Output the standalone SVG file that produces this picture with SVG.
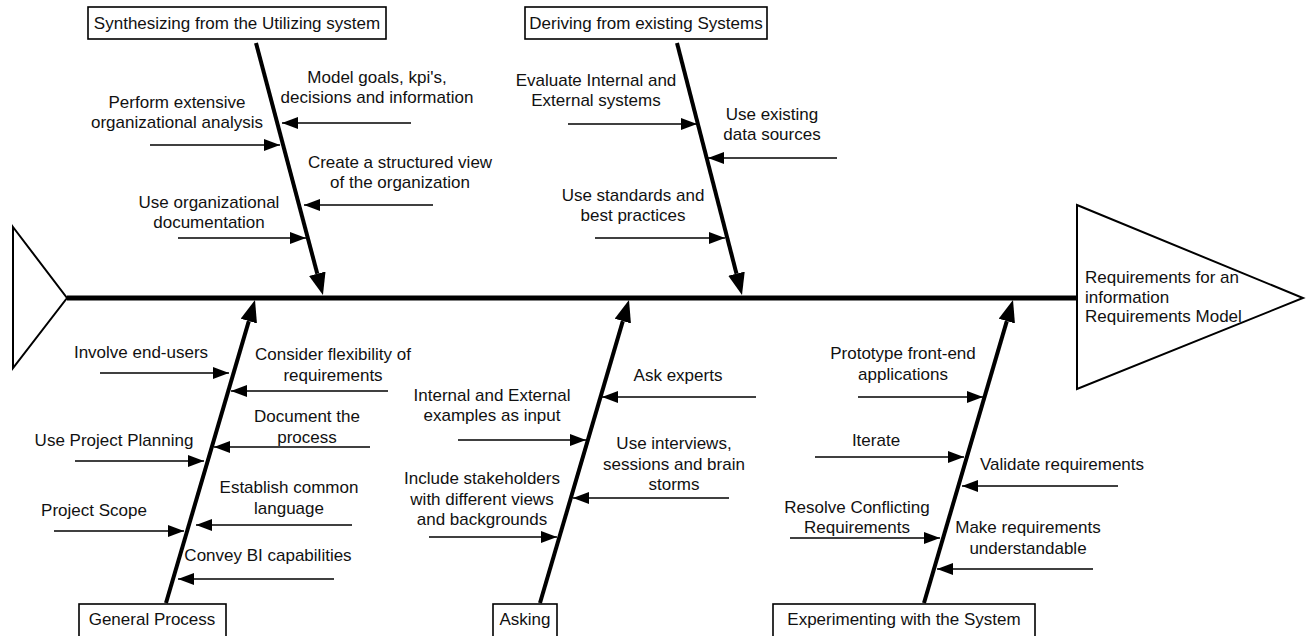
<svg xmlns="http://www.w3.org/2000/svg" width="1310" height="636" viewBox="0 0 1310 636">
  <style>
    text { font-family: "Liberation Sans", Arial, Helvetica, sans-serif; font-size: 17px; fill: #111; }
    .c { text-anchor: middle; }
    .box { fill: #fff; stroke: #000; stroke-width: 1.6; }
    .shape { fill: #fff; stroke: #000; stroke-width: 2; stroke-linejoin: miter; }
    .spine { stroke: #000; stroke-width: 5; fill: none; }
    .bone { stroke: #000; stroke-width: 4; fill: none; marker-end: url(#boneHead); }
    .cause { stroke: #000; stroke-width: 1.6; fill: none; marker-end: url(#causeHead); }
  </style>
  <defs>
    <marker id="causeHead" markerUnits="userSpaceOnUse" markerWidth="16" markerHeight="12" refX="16" refY="6" orient="auto">
      <path d="M0,0 L16,6 L0,12 z" fill="#000"/>
    </marker>
    <marker id="boneHead" markerUnits="userSpaceOnUse" markerWidth="22" markerHeight="17" refX="0" refY="8.5" orient="auto">
      <path d="M0,0 L22,8.5 L0,17 z" fill="#000"/>
    </marker>
  </defs>

  <rect width="1310" height="636" fill="#fff"/>

  <!-- fish tail -->
  <g id="tail">
    <polygon class="shape" points="13,227 67,298 13,368"/>
  </g>

  <!-- fish head: effect -->
  <g id="effect">
    <polygon class="shape" points="1077,205 1303,298 1077,389"/>
    <text x="1085" y="283">Requirements for an</text>
    <text x="1085" y="302.5">information</text>
    <text x="1085" y="322">Requirements Model</text>
  </g>

  <!-- connectors: spine, main bones, cause arrows -->
  <g id="connectors">
    <line class="spine" x1="67" y1="298" x2="1077" y2="298"/>

    <line class="bone" x1="256" y1="43" x2="317.3" y2="273.7"/>
    <line class="bone" x1="677" y1="43" x2="736.5" y2="273.7"/>
    <line class="bone" x1="166" y1="603" x2="248.8" y2="321.1"/>
    <line class="bone" x1="540" y1="603" x2="622.8" y2="321.1"/>
    <line class="bone" x1="924" y1="603" x2="1006.8" y2="321.1"/>

    <!-- Synthesizing -->
    <line class="cause" x1="150" y1="145" x2="280" y2="145"/>
    <line class="cause" x1="178" y1="238" x2="306" y2="238"/>
    <line class="cause" x1="411" y1="123" x2="282" y2="123"/>
    <line class="cause" x1="433" y1="205" x2="304" y2="205"/>

    <!-- Deriving -->
    <line class="cause" x1="568" y1="124" x2="697" y2="124"/>
    <line class="cause" x1="595" y1="238" x2="725" y2="238"/>
    <line class="cause" x1="837" y1="158" x2="708" y2="158"/>

    <!-- General Process -->
    <line class="cause" x1="100" y1="373" x2="229" y2="373"/>
    <line class="cause" x1="388" y1="391" x2="231" y2="391"/>
    <line class="cause" x1="370" y1="447" x2="214" y2="447"/>
    <line class="cause" x1="75" y1="461" x2="204" y2="461"/>
    <line class="cause" x1="352" y1="525" x2="196" y2="525"/>
    <line class="cause" x1="54" y1="531" x2="184" y2="531"/>
    <line class="cause" x1="334" y1="579" x2="178" y2="579"/>

    <!-- Asking -->
    <line class="cause" x1="756" y1="397" x2="602" y2="397"/>
    <line class="cause" x1="458" y1="440" x2="586" y2="440"/>
    <line class="cause" x1="729" y1="498" x2="573" y2="498"/>
    <line class="cause" x1="429" y1="537" x2="557" y2="537"/>

    <!-- Experimenting -->
    <line class="cause" x1="858" y1="397" x2="983" y2="397"/>
    <line class="cause" x1="815" y1="457" x2="964" y2="457"/>
    <line class="cause" x1="1118" y1="486" x2="962" y2="486"/>
    <line class="cause" x1="790" y1="538" x2="940" y2="538"/>
    <line class="cause" x1="1093" y1="569" x2="937" y2="569"/>
  </g>

  <!-- category boxes -->
  <g id="cat-synthesizing">
    <rect class="box" x="88" y="7" width="298" height="32"/>
    <text class="c" x="237" y="29">Synthesizing from the Utilizing system</text>
  </g>
  <g id="cat-deriving">
    <rect class="box" x="525" y="7" width="242" height="32"/>
    <text class="c" x="646" y="29">Deriving from existing Systems</text>
  </g>
  <g id="cat-general">
    <rect class="box" x="79" y="604" width="147" height="34"/>
    <text class="c" x="152" y="625">General Process</text>
  </g>
  <g id="cat-asking">
    <rect class="box" x="493" y="604" width="64" height="34"/>
    <text class="c" x="525" y="625">Asking</text>
  </g>
  <g id="cat-experimenting">
    <rect class="box" x="773" y="604" width="262" height="34"/>
    <text class="c" x="904" y="625">Experimenting with the System</text>
  </g>

  <!-- cause labels -->
  <g id="cause-perform">
    <text class="c" x="177" y="108">Perform extensive</text>
    <text class="c" x="177" y="128">organizational analysis</text>
  </g>
  <g id="cause-orgdoc">
    <text class="c" x="209" y="208">Use organizational</text>
    <text class="c" x="209" y="228">documentation</text>
  </g>
  <g id="cause-model">
    <text class="c" x="377" y="83">Model goals, kpi's,</text>
    <text class="c" x="377" y="103">decisions and information</text>
  </g>
  <g id="cause-structured">
    <text class="c" x="400" y="168">Create a structured view</text>
    <text class="c" x="400" y="188">of the organization</text>
  </g>

  <g id="cause-evaluate">
    <text class="c" x="596" y="86">Evaluate Internal and</text>
    <text class="c" x="596" y="106">External systems</text>
  </g>
  <g id="cause-standards">
    <text class="c" x="633" y="201">Use standards and</text>
    <text class="c" x="633" y="221">best practices</text>
  </g>
  <g id="cause-datasources">
    <text class="c" x="772" y="120">Use existing</text>
    <text class="c" x="772" y="140">data sources</text>
  </g>

  <g id="cause-endusers">
    <text class="c" x="141" y="358">Involve end-users</text>
  </g>
  <g id="cause-flexibility">
    <text class="c" x="333" y="360">Consider flexibility of</text>
    <text class="c" x="333" y="381">requirements</text>
  </g>
  <g id="cause-document">
    <text class="c" x="307" y="422">Document the</text>
    <text class="c" x="307" y="443">process</text>
  </g>
  <g id="cause-planning">
    <text class="c" x="114" y="446">Use Project Planning</text>
  </g>
  <g id="cause-language">
    <text class="c" x="289" y="493">Establish common</text>
    <text class="c" x="289" y="514">language</text>
  </g>
  <g id="cause-scope">
    <text class="c" x="94" y="516">Project Scope</text>
  </g>
  <g id="cause-bi">
    <text class="c" x="268" y="561">Convey BI capabilities</text>
  </g>

  <g id="cause-experts">
    <text class="c" x="678" y="381">Ask experts</text>
  </g>
  <g id="cause-examples">
    <text class="c" x="492" y="401">Internal and External</text>
    <text class="c" x="492" y="421">examples as input</text>
  </g>
  <g id="cause-interviews">
    <text class="c" x="674" y="449">Use interviews,</text>
    <text class="c" x="674" y="470">sessions and brain</text>
    <text class="c" x="674" y="490">storms</text>
  </g>
  <g id="cause-stakeholders">
    <text class="c" x="482" y="484">Include stakeholders</text>
    <text class="c" x="482" y="505">with different views</text>
    <text class="c" x="482" y="525">and backgrounds</text>
  </g>

  <g id="cause-prototype">
    <text class="c" x="903" y="359">Prototype front-end</text>
    <text class="c" x="903" y="380">applications</text>
  </g>
  <g id="cause-iterate">
    <text class="c" x="876" y="446">Iterate</text>
  </g>
  <g id="cause-validate">
    <text class="c" x="1062" y="470">Validate requirements</text>
  </g>
  <g id="cause-conflicting">
    <text class="c" x="857" y="513">Resolve Conflicting</text>
    <text class="c" x="857" y="533">Requirements</text>
  </g>
  <g id="cause-understandable">
    <text class="c" x="1028" y="533">Make requirements</text>
    <text class="c" x="1028" y="554">understandable</text>
  </g>
</svg>
